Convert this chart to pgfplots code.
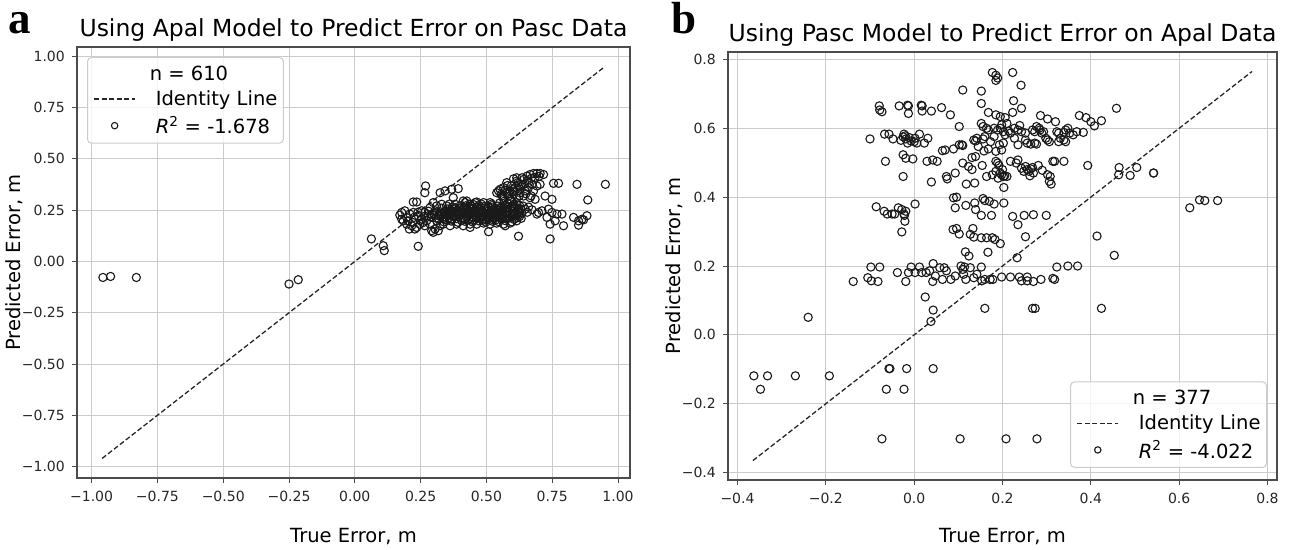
\documentclass[border=0pt]{standalone}
\usepackage{fontspec}
\setmainfont{DejaVu Sans}
\newfontfamily\panelfont{Liberation Serif}
\usepackage{pgfplots}
\usepackage{pgfplotstable}
\pgfplotsset{compat=1.18}

\pgfplotstableread{
x y
-0.957 -0.078
-0.928 -0.073
-0.830 -0.078
-0.250 -0.110
-0.215 -0.089
0.063 0.110
0.108 0.077
0.112 0.053
0.241 0.074
0.269 0.368
0.266 0.335
0.324 0.335
0.343 0.344
0.368 0.352
0.393 0.355
0.374 0.311
0.425 0.295
0.222 0.290
0.235 0.290
0.171 0.226
0.178 0.206
0.184 0.198
0.197 0.182
0.207 0.158
0.216 0.174
0.228 0.158
0.235 0.166
0.247 0.182
0.260 0.190
0.273 0.198
0.292 0.150
0.298 0.142
0.305 0.158
0.317 0.150
0.197 0.214
0.209 0.231
0.222 0.239
0.241 0.223
0.254 0.247
0.266 0.239
0.286 0.263
0.298 0.287
0.311 0.271
0.330 0.279
0.349 0.271
0.362 0.247
0.381 0.279
0.400 0.271
0.419 0.287
0.438 0.279
0.457 0.287
0.178 0.239
0.190 0.247
0.203 0.198
0.220 0.190
0.225 0.215
0.254 0.206
0.266 0.174
0.286 0.182
0.279 0.223
0.292 0.231
0.311 0.198
0.324 0.174
0.336 0.182
0.343 0.206
0.317 0.223
0.305 0.247
0.362 0.174
0.387 0.182
0.412 0.174
0.438 0.182
0.463 0.182
0.489 0.187
0.514 0.182
0.539 0.187
0.565 0.182
0.590 0.187
0.615 0.198
0.571 0.174
0.438 0.166
0.508 0.145
0.412 0.295
0.463 0.290
0.489 0.287
0.514 0.287
0.565 0.303
0.596 0.295
0.615 0.287
0.338 0.193
0.366 0.197
0.392 0.191
0.418 0.196
0.447 0.193
0.471 0.198
0.498 0.192
0.523 0.196
0.547 0.194
0.572 0.199
0.597 0.193
0.309 0.212
0.334 0.208
0.358 0.213
0.386 0.209
0.411 0.212
0.433 0.207
0.461 0.213
0.487 0.209
0.512 0.211
0.534 0.214
0.561 0.208
0.586 0.212
0.611 0.215
0.302 0.226
0.327 0.222
0.352 0.227
0.374 0.223
0.401 0.228
0.426 0.224
0.452 0.226
0.476 0.222
0.501 0.227
0.526 0.225
0.548 0.229
0.577 0.224
0.601 0.228
0.622 0.226
0.312 0.241
0.338 0.238
0.361 0.243
0.384 0.239
0.409 0.242
0.437 0.238
0.458 0.243
0.486 0.241
0.509 0.238
0.537 0.244
0.562 0.240
0.583 0.243
0.609 0.239
0.627 0.244
0.351 0.256
0.377 0.252
0.399 0.257
0.427 0.253
0.451 0.258
0.474 0.254
0.502 0.257
0.524 0.253
0.551 0.258
0.573 0.255
0.598 0.259
0.621 0.256
0.421 0.271
0.446 0.268
0.472 0.273
0.494 0.269
0.521 0.272
0.543 0.270
0.569 0.274
0.596 0.271
0.616 0.275
0.395 0.232
0.445 0.217
0.495 0.233
0.545 0.218
0.590 0.233
0.470 0.247
0.520 0.262
0.580 0.265
0.360 0.232
0.430 0.245
0.560 0.248
0.610 0.262
0.500 0.202
0.455 0.203
0.535 0.202
0.350 0.200
0.380 0.217
0.405 0.200
0.430 0.232
0.460 0.235
0.485 0.200
0.510 0.250
0.530 0.232
0.555 0.265
0.575 0.210
0.600 0.245
0.615 0.228
0.325 0.233
0.345 0.245
0.370 0.265
0.390 0.248
0.415 0.262
0.440 0.260
0.465 0.265
0.490 0.260
0.515 0.225
0.540 0.255
0.565 0.220
0.590 0.258
0.605 0.205
0.520 0.280
0.550 0.285
0.580 0.283
0.605 0.280
0.480 0.280
0.450 0.278
0.320 0.205
0.290 0.215
0.300 0.235
0.280 0.245
0.265 0.220
0.250 0.200
0.240 0.240
0.330 0.260
0.360 0.280
0.343 0.218
0.368 0.206
0.394 0.221
0.421 0.204
0.448 0.236
0.473 0.211
0.497 0.246
0.522 0.205
0.548 0.241
0.571 0.232
0.596 0.219
0.618 0.248
0.356 0.241
0.382 0.262
0.406 0.249
0.433 0.266
0.457 0.252
0.482 0.229
0.507 0.266
0.531 0.247
0.557 0.234
0.582 0.250
0.603 0.268
0.625 0.236
0.345 0.228
0.372 0.238
0.398 0.244
0.424 0.216
0.451 0.247
0.478 0.238
0.503 0.218
0.527 0.240
0.553 0.212
0.578 0.238
0.602 0.234
0.626 0.219
0.465 0.225
0.515 0.235
0.565 0.262
0.540 0.228
0.490 0.218
0.413 0.235
0.546 0.344
0.565 0.360
0.577 0.384
0.603 0.403
0.615 0.408
0.635 0.408
0.654 0.416
0.666 0.424
0.679 0.429
0.692 0.429
0.704 0.429
0.717 0.424
0.539 0.335
0.555 0.327
0.577 0.335
0.590 0.344
0.609 0.360
0.622 0.368
0.641 0.376
0.660 0.384
0.673 0.376
0.692 0.368
0.704 0.376
0.615 0.392
0.641 0.400
0.552 0.352
0.603 0.327
0.628 0.335
0.647 0.344
0.679 0.344
0.641 0.319
0.615 0.311
0.590 0.303
0.565 0.311
0.583 0.318
0.600 0.350
0.628 0.352
0.580 0.370
0.570 0.345
0.595 0.370
0.620 0.385
0.655 0.395
0.670 0.405
0.685 0.410
0.700 0.415
0.660 0.360
0.630 0.365
0.605 0.340
0.585 0.330
0.560 0.320
0.625 0.320
0.650 0.330
0.670 0.320
0.647 0.255
0.673 0.252
0.698 0.239
0.711 0.247
0.736 0.255
0.749 0.239
0.768 0.231
0.787 0.231
0.692 0.231
0.730 0.215
0.742 0.182
0.761 0.198
0.793 0.174
0.831 0.215
0.850 0.198
0.863 0.206
0.869 0.203
0.882 0.223
0.850 0.177
0.742 0.110
0.622 0.123
0.723 0.319
0.749 0.303
0.685 0.303
0.666 0.311
0.755 0.381
0.774 0.381
0.844 0.376
0.952 0.376
0.885 0.300
0.632 0.210
0.635 0.235
0.630 0.255
0.625 0.275
0.640 0.270
0.655 0.240
0.660 0.265
}\dataA

\pgfplotstableread{
x y
0.177 0.762
0.185 0.754
0.189 0.746
0.185 0.739
0.223 0.762
0.242 0.725
0.110 0.711
0.152 0.708
0.225 0.680
0.152 0.672
0.243 0.658
0.458 0.658
-0.079 0.665
-0.078 0.653
-0.073 0.648
-0.034 0.665
-0.015 0.667
-0.013 0.665
0.016 0.667
0.018 0.665
0.039 0.650
0.062 0.660
0.082 0.639
-0.013 0.643
0.018 0.650
0.168 0.646
0.185 0.639
0.195 0.634
0.206 0.631
0.223 0.646
0.286 0.637
0.302 0.627
0.374 0.637
0.389 0.631
0.400 0.619
0.408 0.607
0.424 0.622
0.102 0.605
-0.100 0.569
-0.067 0.583
-0.057 0.583
-0.048 0.569
-0.023 0.583
-0.019 0.569
-0.011 0.573
-0.007 0.563
0.002 0.571
0.006 0.557
0.012 0.583
0.023 0.557
0.031 0.571
-0.015 0.557
0.000 0.561
-0.025 0.575
-0.030 0.565
-0.020 0.578
0.110 0.550
0.139 0.563
0.135 0.566
0.142 0.571
0.145 0.547
0.156 0.569
0.158 0.534
0.152 0.614
0.156 0.605
0.164 0.600
0.168 0.595
0.181 0.600
0.189 0.595
0.195 0.600
0.202 0.590
0.198 0.610
0.210 0.614
0.214 0.592
0.218 0.586
0.227 0.600
0.235 0.595
0.239 0.608
0.243 0.590
0.252 0.586
0.256 0.557
0.264 0.554
0.273 0.557
0.277 0.554
0.268 0.595
0.273 0.590
0.277 0.605
0.283 0.600
0.285 0.595
0.289 0.586
0.293 0.590
0.298 0.571
0.302 0.566
0.306 0.561
0.320 0.619
0.323 0.590
0.327 0.586
0.331 0.571
0.339 0.588
0.343 0.595
0.348 0.600
0.352 0.586
0.360 0.581
0.368 0.590
0.383 0.588
0.339 0.566
0.343 0.561
0.327 0.561
0.185 0.533
0.198 0.537
0.202 0.557
0.193 0.552
0.173 0.561
0.160 0.576
0.181 0.576
0.206 0.581
0.227 0.571
0.252 0.566
0.235 0.552
0.168 0.540
-0.065 0.504
-0.003 0.511
0.029 0.504
0.042 0.508
0.052 0.504
-0.025 0.523
-0.019 0.513
-0.025 0.460
0.039 0.444
0.073 0.460
0.075 0.453
0.093 0.470
0.110 0.499
0.123 0.489
0.131 0.480
0.118 0.438
0.137 0.441
0.131 0.515
0.139 0.518
0.154 0.492
0.164 0.460
0.177 0.465
0.185 0.504
0.189 0.499
0.192 0.492
0.185 0.475
0.198 0.465
0.202 0.460
0.210 0.460
0.203 0.428
0.218 0.504
0.231 0.499
0.235 0.508
0.243 0.484
0.252 0.489
0.248 0.475
0.256 0.480
0.260 0.475
0.264 0.482
0.268 0.486
0.281 0.492
0.302 0.465
0.308 0.460
0.306 0.446
0.310 0.438
0.314 0.504
0.318 0.504
0.339 0.504
0.393 0.492
0.464 0.486
0.463 0.465
0.489 0.463
0.504 0.486
0.542 0.470
0.064 0.535
0.070 0.537
0.089 0.540
0.102 0.552
0.108 0.552
0.195 0.470
0.200 0.480
0.205 0.462
0.190 0.455
0.270 0.470
0.290 0.478
0.262 0.462
-0.086 0.372
-0.068 0.359
-0.061 0.351
-0.050 0.351
-0.044 0.351
-0.036 0.369
-0.028 0.364
-0.023 0.351
-0.019 0.359
-0.022 0.347
-0.021 0.330
-0.028 0.299
0.002 0.380
0.089 0.398
0.096 0.400
0.093 0.369
0.117 0.376
0.137 0.383
0.156 0.396
0.160 0.390
0.170 0.388
0.181 0.380
0.203 0.383
0.139 0.364
0.152 0.347
0.175 0.347
0.223 0.344
0.235 0.320
0.249 0.347
0.270 0.349
0.299 0.347
0.088 0.306
0.102 0.293
0.096 0.309
0.133 0.309
0.127 0.292
0.135 0.284
0.152 0.282
0.164 0.282
0.177 0.282
0.183 0.277
0.195 0.265
0.167 0.240
0.116 0.241
0.124 0.229
0.252 0.285
0.414 0.287
0.453 0.231
0.233 0.224
-0.138 0.155
-0.105 0.166
-0.098 0.197
-0.097 0.157
-0.082 0.155
-0.078 0.197
-0.038 0.181
-0.019 0.155
-0.013 0.181
-0.007 0.197
0.002 0.181
0.012 0.197
0.017 0.181
0.027 0.181
0.035 0.186
0.043 0.207
0.042 0.155
0.048 0.171
0.058 0.195
0.064 0.161
0.068 0.195
0.073 0.186
0.083 0.161
0.093 0.171
0.106 0.200
0.110 0.190
0.112 0.176
0.114 0.197
0.117 0.161
0.127 0.195
0.135 0.166
0.142 0.176
0.152 0.197
0.153 0.157
0.160 0.161
0.172 0.161
0.178 0.161
0.198 0.168
0.218 0.168
0.238 0.168
0.243 0.157
0.256 0.168
0.256 0.157
0.270 0.155
0.287 0.161
0.314 0.164
0.318 0.161
0.323 0.197
0.348 0.200
0.370 0.200
0.025 0.110
0.043 0.072
0.038 0.039
0.160 0.077
0.268 0.077
0.274 0.077
0.424 0.077
-0.240 0.051
-0.363 -0.119
-0.348 -0.158
-0.332 -0.119
-0.269 -0.119
-0.192 -0.119
-0.057 -0.098
-0.055 -0.098
-0.017 -0.098
0.043 -0.098
-0.063 -0.158
-0.023 -0.158
-0.073 -0.302
0.104 -0.302
0.208 -0.302
0.278 -0.302
0.624 0.369
0.646 0.392
0.658 0.390
0.687 0.390
0.542 0.470
}\dataB

\newcommand\ls{\rule[-4.6bp]{0pt}{19.4bp}}

\pgfplotsset{
  myaxis/.style={
    scale only axis,
    axis line style={black!70, line width=1.2bp},
    grid=major,
    major grid style={black!20, line width=1bp},
    tick align=outside,
    tick pos=left,
    major tick length=5bp,
    every tick/.style={black!70, line width=1bp},
    tick label style={font=\fontsize{14bp}{16bp}\selectfont, text=black!85, inner sep=0pt},
    xticklabel shift=8bp,
    yticklabel shift=7bp,
    label style={font=\fontsize{19.5bp}{23bp}\selectfont, inner sep=0pt},
    title style={font=\fontsize{23.5bp}{28bp}\selectfont, anchor=base, inner sep=0pt},
    legend style={font=\fontsize{19.5bp}{23bp}\selectfont, draw=black!20, line width=1bp,
      fill=white, fill opacity=0.8, text opacity=1, rounded corners=4bp,
      inner xsep=6bp, inner ysep=8bp, row sep=9bp, column sep=20bp,
      nodes={inner sep=0pt}},
    legend cell align=left,
  },
  scat/.style={only marks, mark=o, black!90, mark size=4.1bp, mark options={solid, line width=1.1bp},
    legend image code/.code={\draw[##1, mark size=3.2bp] plot coordinates {(20.5bp,0bp)};}},
  idline/.style={black!85, line width=1.3bp, dash pattern=on 5bp off 2.5bp,
    legend image code/.code={\draw[##1] (0bp,0bp) -- (41bp,0bp);}},
}

\begin{document}
\begin{tikzpicture}
\path[use as bounding box] (0,0) rectangle (1294bp,550bp);

\begin{axis}[myaxis,
  at={(77bp,72bp)}, anchor=south west,
  width=553bp, height=431bp,
  xmin=-1.0555, xmax=1.0455, ymin=-1.0555, ymax=1.0455,
  xtick={-1,-0.75,-0.5,-0.25,0,0.25,0.5,0.75,1},
  xticklabels={−1.00,−0.75,−0.50,−0.25,0.00,0.25,0.50,0.75,1.00},
  ytick={-1,-0.75,-0.5,-0.25,0,0.25,0.5,0.75,1},
  yticklabels={−1.00,−0.75,−0.50,−0.25,0.00,0.25,0.50,0.75,1.00},
  title={Using Apal Model to Predict Error on Pasc Data},
  title style={at={(axis description cs:0.5,1.0116)}},
  xlabel={True Error, m},
  xlabel style={at={(axis description cs:0.5,-0.1485)}, anchor=base},
  ylabel={Predicted Error, m},
  ylabel style={at={(axis description cs:-0.1013,0.5)}, anchor=base},
  legend style={at={(rel axis cs:0,1)}, anchor=north west, xshift=10bp, yshift=-10bp},
]
\addlegendimage{empty legend}
\addlegendentry{\ls\hspace*{-6bp}n = 610}
\addplot[idline] coordinates {(-0.96,-0.96) (0.95,0.95)};
\addlegendentry{\ls Identity Line}
\addplot[scat] table[x=x,y=y] {\dataA};
\addlegendentry{\ls{\itshape R}\textsuperscript{2} = -1.678}
\end{axis}

\begin{axis}[myaxis,
  at={(728bp,70bp)}, anchor=south west,
  width=549bp, height=428bp,
  xmin=-0.4215, xmax=0.8215, ymin=-0.4215, ymax=0.8215,
  xtick={-0.4,-0.2,0,0.2,0.4,0.6,0.8},
  xticklabels={−0.4,−0.2,0.0,0.2,0.4,0.6,0.8},
  ytick={-0.4,-0.2,0,0.2,0.4,0.6,0.8},
  yticklabels={−0.4,−0.2,0.0,0.2,0.4,0.6,0.8},
  title={Using Pasc Model to Predict Error on Apal Data},
  title style={at={(axis description cs:0.5,1.0117)}},
  xlabel={True Error, m},
  xlabel style={at={(axis description cs:0.5,-0.1449)}, anchor=base},
  ylabel={Predicted Error, m},
  ylabel style={at={(axis description cs:-0.0874,0.5)}, anchor=base},
  legend style={at={(rel axis cs:1,0)}, anchor=south east, xshift=-10bp, yshift=12bp},
]
\addlegendimage{empty legend}
\addlegendentry{\ls\hspace*{-6bp}n = 377}
\addplot[idline] coordinates {(-0.365,-0.365) (0.765,0.765)};
\addlegendentry{\ls Identity Line}
\addplot[scat] table[x=x,y=y] {\dataB};
\addlegendentry{\ls{\itshape R}\textsuperscript{2} = -4.022}
\end{axis}

\node[anchor=base west, inner sep=0pt, font=\panelfont\bfseries\fontsize{45bp}{50bp}\selectfont] at (8bp,516bp) {a};
\node[anchor=base west, inner sep=0pt, font=\panelfont\bfseries\fontsize{45bp}{50bp}\selectfont] at (671bp,516bp) {b};
\end{tikzpicture}
\end{document}
